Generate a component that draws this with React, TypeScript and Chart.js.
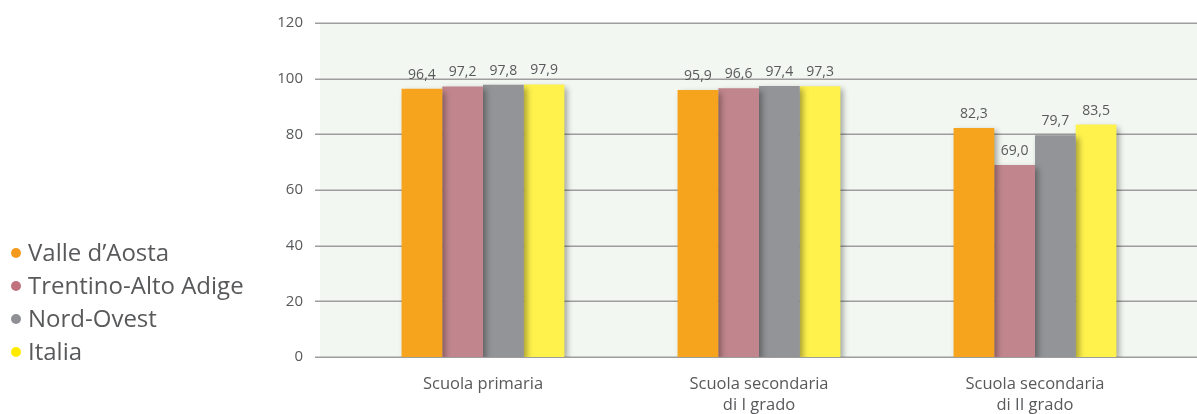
import React, { useEffect, useRef } from "react";
import { Chart, registerables } from "chart.js";

Chart.register(...registerables);

const categories: string[][] = [
  ["Scuola primaria"],
  ["Scuola secondaria", "di I grado"],
  ["Scuola secondaria", "di II grado"],
];
const seriesNames = ["Valle d’Aosta", "Trentino-Alto Adige", "Nord-Ovest", "Italia"];
const valleDAosta = [96.4, 95.9, 82.3];
const trentinoAltoAdige = [97.2, 96.6, 69.0];
const nordOvest = [97.8, 97.4, 79.7];
const italia = [97.9, 97.3, 83.5];
const yTicks = [0, 20, 40, 60, 80, 100, 120];

const barColors = ["#F6A31D", "#C1868D", "#939497", "#FFF24D"];
const dotColors = ["#F39A1C", "#C0737E", "#8E9094", "#FFEB00"];
const FONT = "'Open Sans', 'Noto Sans', sans-serif";

// Plot background and horizontal rules, drawn a bit wider than the category area
const backdrop = {
  id: "backdrop",
  beforeDatasetsDraw(chart: any) {
    const { ctx, scales } = chart;
    const y = scales.y;
    const top = y.getPixelForValue(120);
    const bottom = y.getPixelForValue(0);
    ctx.save();
    ctx.fillStyle = "#F2F7F1";
    ctx.fillRect(320, top, chart.width - 320, bottom - top);
    ctx.strokeStyle = "#9D9D9D";
    ctx.lineWidth = 1.5;
    for (const t of yTicks) {
      const py = Math.round(y.getPixelForValue(t)) + 0.25;
      ctx.beginPath();
      ctx.moveTo(315, py);
      ctx.lineTo(chart.width, py);
      ctx.stroke();
    }
    ctx.restore();
    // soft drop shadow for the bars
    ctx.save();
    ctx.shadowColor = "rgba(0,0,0,0.35)";
    ctx.shadowBlur = 6;
    ctx.shadowOffsetX = 3;
    ctx.shadowOffsetY = 3;
  },
  afterDatasetsDraw(chart: any) {
    chart.ctx.restore();
  },
};

// Value labels above each bar, Italian decimal comma
const valueLabels = {
  id: "valueLabels",
  afterDraw(chart: any) {
    const { ctx } = chart;
    ctx.save();
    ctx.font = `14px ${FONT}`;
    ctx.fillStyle = "#58595B";
    ctx.textAlign = "center";
    ctx.textBaseline = "bottom";
    chart.data.datasets.forEach((ds: any, i: number) => {
      const meta = chart.getDatasetMeta(i);
      meta.data.forEach((bar: any, j: number) => {
        const v = ds.data[j] as number;
        ctx.fillText(v.toFixed(1).replace(".", ","), bar.x, bar.y - 7);
      });
    });
    ctx.restore();
  },
};

export default function App() {
  const canvasRef = useRef<HTMLCanvasElement | null>(null);

  useEffect(() => {
    const canvas = canvasRef.current;
    if (!canvas) return;
    const series = [valleDAosta, trentinoAltoAdige, nordOvest, italia];
    const chart = new Chart(canvas, {
      type: "bar",
      data: {
        labels: categories,
        datasets: series.map((data, i) => ({
          label: seriesNames[i],
          data,
          backgroundColor: barColors[i],
          borderWidth: 0,
          barPercentage: 1,
          categoryPercentage: 0.59,
        })),
      },
      options: {
        animation: false,
        responsive: false,
        maintainAspectRatio: false,
        layout: { padding: { left: 278, right: 24, top: 23, bottom: 0 } },
        plugins: {
          legend: { display: false },
          tooltip: { enabled: false },
        },
        scales: {
          x: {
            grid: { display: false, drawTicks: false },
            border: { display: false },
            ticks: {
              color: "#58595B",
              font: { family: FONT, size: 16.5, lineHeight: 1.27 },
              padding: 17,
              maxRotation: 0,
              autoSkip: false,
            },
            afterFit: (scale: any) => {
              scale.height = 57;
              scale.paddingLeft = 0;
              scale.paddingRight = 0;
            },
          },
          y: {
            min: 0,
            max: 120,
            grid: { display: false, drawTicks: false },
            border: { display: false },
            ticks: {
              stepSize: 20,
              color: "#58595B",
              font: { family: FONT, size: 15 },
              padding: 42,
            },
            afterFit: (scale: any) => {
              scale.width = 67;
              scale.paddingTop = 0;
              scale.paddingBottom = 0;
            },
          },
        },
      },
      plugins: [backdrop, valueLabels],
    });
    return () => chart.destroy();
  }, []);

  return (
    <div
      style={{
        position: "fixed",
        left: 0,
        top: 0,
        width: 1197,
        height: 414,
        background: "#ffffff",
        fontFamily: FONT,
      }}
    >
      <canvas
        ref={canvasRef}
        width={1197}
        height={414}
        style={{ position: "absolute", left: 0, top: 0, width: 1197, height: 414 }}
      />
      <div style={{ position: "absolute", left: 11, top: 235 }}>
        {seriesNames.map((name, i) => (
          <div
            key={name}
            style={{
              display: "flex",
              alignItems: "center",
              height: 33,
              fontSize: 24,
              color: "#58595B",
              whiteSpace: "nowrap",
            }}
          >
            <span
              style={{
                display: "inline-block",
                width: 10,
                height: 10,
                borderRadius: "50%",
                background: dotColors[i],
                marginRight: 7,
                marginTop: 2,
              }}
            />
            {name}
          </div>
        ))}
      </div>
    </div>
  );
}
